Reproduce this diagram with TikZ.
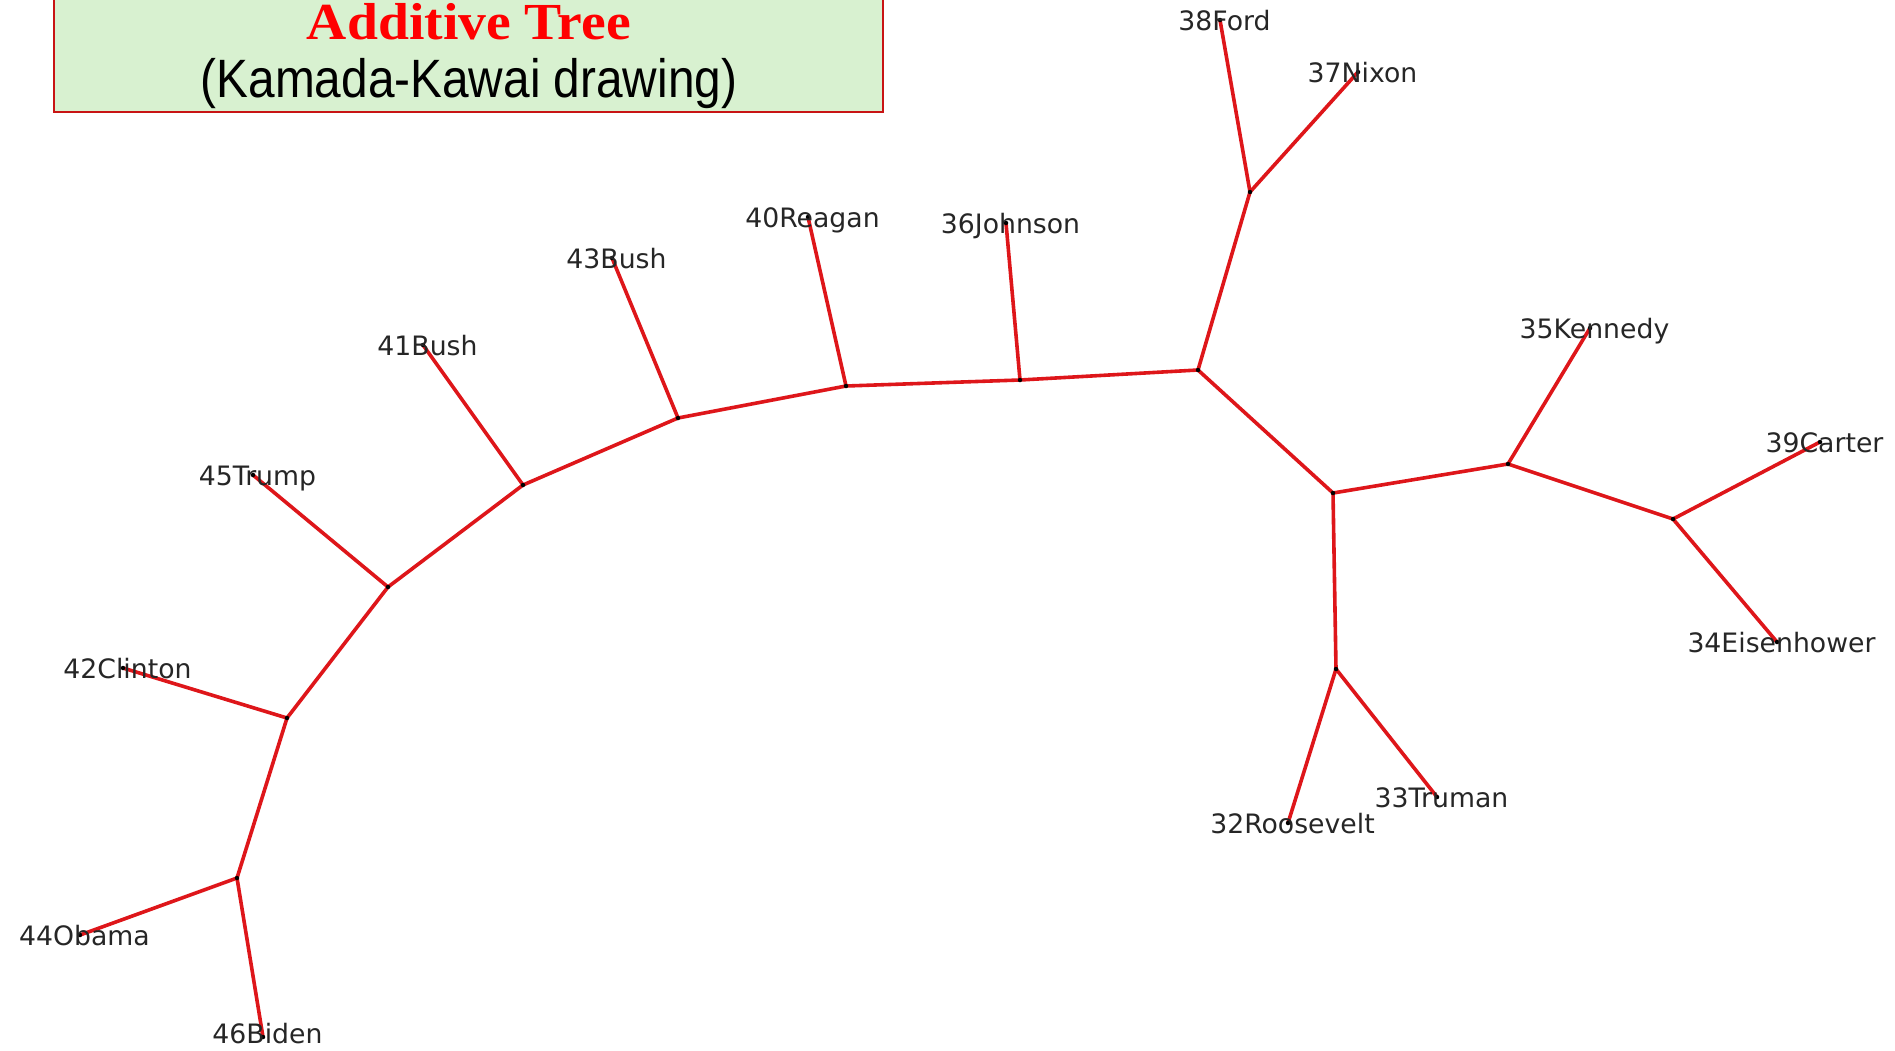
\documentclass[tikz,border=0pt]{standalone}
\usepackage{fontspec}
\setmainfont{DejaVu Sans}
\newfontfamily\lblfont{DejaVu Sans}
\newfontfamily\titlefont{Liberation Serif}
\newfontfamily\subfont{Liberation Sans}
\definecolor{edgered}{RGB}{222,22,26}
\definecolor{boxgreen}{RGB}{216,241,208}
\definecolor{boxborder}{RGB}{200,20,20}
\definecolor{lblgray}{RGB}{38,38,38}
\pgfdeclarelayer{bg}
\pgfsetlayers{bg,main}
\tikzset{
  dot/.style={circle,fill=black,inner sep=0pt,minimum size=4.5pt},
  lbl/.style={font=\lblfont\fontsize{26.7}{30}\selectfont,text=lblgray,inner sep=0pt,
    text height=0.76em,text depth=0.24em,anchor=center,xshift=4.5pt,yshift=-8pt},
  edge/.style={draw=edgered,line width=3.6pt}
}
\begin{document}
\begin{tikzpicture}[x=1pt,y=-1pt]
\useasboundingbox (0,0) rectangle (1895,1050);
% title box
\node[draw=boxborder,fill=boxgreen,line width=1.6pt,minimum width=829pt,minimum height=124pt,inner sep=0pt] (titlebox) at (468.5,50) {};
\node[anchor=base,text=red,inner sep=0pt,font=\titlefont\bfseries\fontsize{52}{56}\selectfont] (title) at (469,39) {\scalebox{1.07}[1]{Additive Tree}};
\node[anchor=base,text=black,inner sep=0pt,font=\subfont\fontsize{54}{60}\selectfont] (subtitle) at (469,97) {\scalebox{0.885}[1]{(Kamada-Kawai drawing)}};
% internal nodes
\node[dot] (hub) at (1198,370) {};
\node[dot] (j1) at (1250,192) {};
\node[dot] (ijoh) at (1020,380) {};
\node[dot] (irea) at (846,386) {};
\node[dot] (ib43) at (678,418) {};
\node[dot] (ib41) at (523,485) {};
\node[dot] (itru) at (388,587) {};
\node[dot] (icli) at (287,718) {};
\node[dot] (iob) at (237,878) {};
\node[dot] (r1) at (1333,493) {};
\node[dot] (r2) at (1508,464) {};
\node[dot] (r3) at (1336,669) {};
\node[dot] (r4) at (1673,519) {};
% leaves
\node[dot] (ford) at (1220,20) {};
\node[dot] (nixon) at (1358,72) {};
\node[dot] (johnson) at (1006,223) {};
\node[dot] (reagan) at (808,217) {};
\node[dot] (bush43) at (612,258) {};
\node[dot] (bush41) at (423,345) {};
\node[dot] (trump) at (253,475) {};
\node[dot] (clinton) at (123,668) {};
\node[dot] (obama) at (80,935) {};
\node[dot] (biden) at (263,1037) {};
\node[dot] (kennedy) at (1590,328) {};
\node[dot] (carter) at (1820,442) {};
\node[dot] (eisen) at (1777,642) {};
\node[dot] (roosevelt) at (1288,823) {};
\node[dot] (truman) at (1437,797) {};
% labels
\node[lbl] (lford) at (ford) {38Ford};
\node[lbl] (lnixon) at (nixon) {37Nixon};
\node[lbl] (ljohnson) at (johnson) {36Johnson};
\node[lbl] (lreagan) at (reagan) {40Reagan};
\node[lbl] (lbush43) at (bush43) {43Bush};
\node[lbl] (lbush41) at (bush41) {41Bush};
\node[lbl] (ltrump) at (trump) {45Trump};
\node[lbl] (lclinton) at (clinton) {42Clinton};
\node[lbl] (lobama) at (obama) {44Obama};
\node[lbl,yshift=4pt] (lbiden) at (biden) {46Biden};
\node[lbl] (lkennedy) at (kennedy) {35Kennedy};
\node[lbl] (lcarter) at (carter) {39Carter};
\node[lbl] (leisen) at (eisen) {34Eisenhower};
\node[lbl] (lroosevelt) at (roosevelt) {32Roosevelt};
\node[lbl] (ltruman) at (truman) {33Truman};
% edges
\begin{pgfonlayer}{bg}
\path[edge] (ford.center) -- (j1.center);
\path[edge] (nixon.center) -- (j1.center);
\path[edge] (j1.center) -- (hub.center);
\path[edge] (hub.center) -- (ijoh.center);
\path[edge] (ijoh.center) -- (johnson.center);
\path[edge] (ijoh.center) -- (irea.center);
\path[edge] (irea.center) -- (reagan.center);
\path[edge] (irea.center) -- (ib43.center);
\path[edge] (ib43.center) -- (bush43.center);
\path[edge] (ib43.center) -- (ib41.center);
\path[edge] (ib41.center) -- (bush41.center);
\path[edge] (ib41.center) -- (itru.center);
\path[edge] (itru.center) -- (trump.center);
\path[edge] (itru.center) -- (icli.center);
\path[edge] (icli.center) -- (clinton.center);
\path[edge] (icli.center) -- (iob.center);
\path[edge] (iob.center) -- (obama.center);
\path[edge] (iob.center) -- (biden.center);
\path[edge] (hub.center) -- (r1.center);
\path[edge] (r1.center) -- (r2.center);
\path[edge] (r2.center) -- (kennedy.center);
\path[edge] (r2.center) -- (r4.center);
\path[edge] (r4.center) -- (carter.center);
\path[edge] (r4.center) -- (eisen.center);
\path[edge] (r1.center) -- (r3.center);
\path[edge] (r3.center) -- (roosevelt.center);
\path[edge] (r3.center) -- (truman.center);
\end{pgfonlayer}
\end{tikzpicture}
\end{document}
